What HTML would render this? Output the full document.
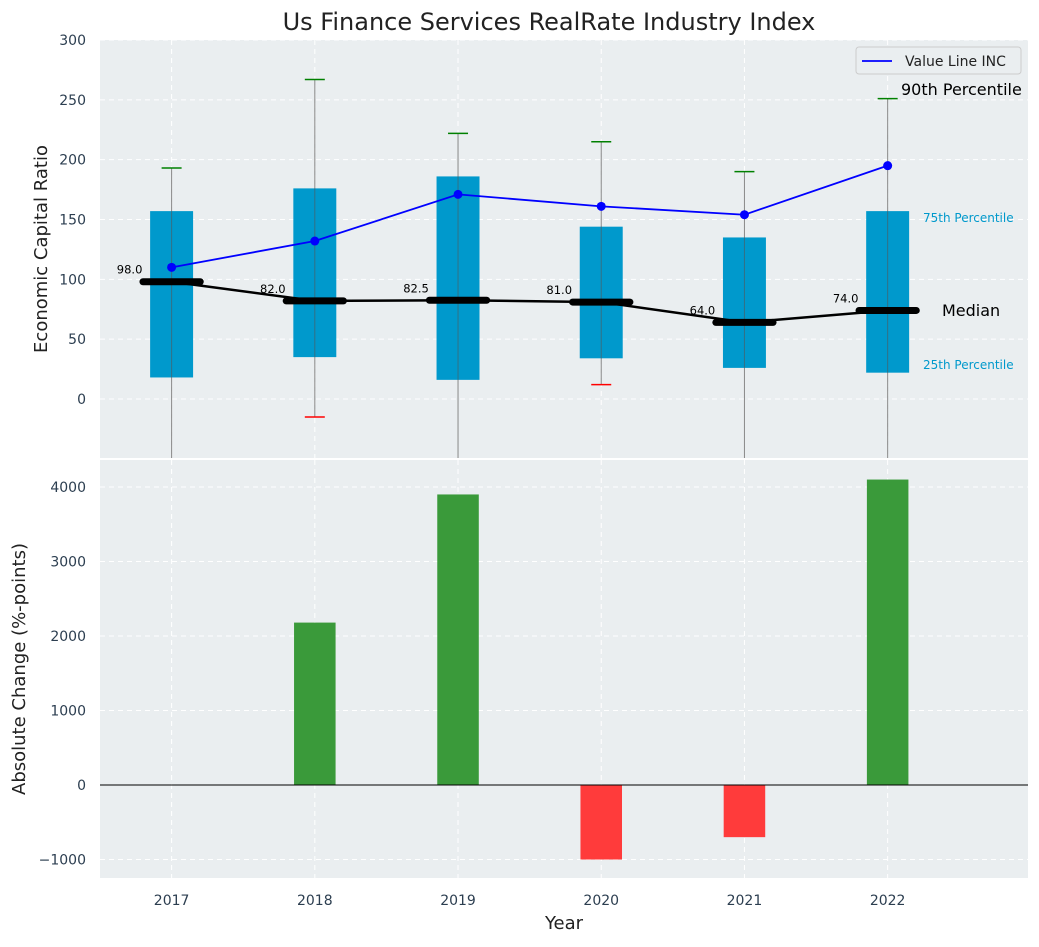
<!DOCTYPE html>
<html><head><meta charset="utf-8"><style>
body{margin:0;background:#fff;font-family:"Liberation Sans","DejaVu Sans",sans-serif}
svg text{font-family:"DejaVu Sans","Liberation Sans",sans-serif}
</style></head><body>
<svg id="chart" width="1039" height="942" xmlns="http://www.w3.org/2000/svg"></svg>
<script>
const years=["2017","2018","2019","2020","2021","2022"];
const q1=[18,35,16,34,26,22];
const q3=[157,176,186,144,135,157];
const medians=[98,82,82.5,81,64,74];
const whiskHigh=[193,267,222,215,190,251];
const whiskLow=[-60,-15,-60,12,-60,-60];
const valueLine=[110,132,171,161,154,195];
const changes=[0,2180,3900,-1000,-700,4100];
const topTicks=[0,50,100,150,200,250,300];
const botTicks=[-1000,0,1000,2000,3000,4000];

const NS="http://www.w3.org/2000/svg";
const svg=document.getElementById('chart');
function mk(t,a,p){const e=document.createElementNS(NS,t);for(const k in a)e.setAttribute(k,a[k]);(p||svg).appendChild(e);return e;}
const L=100,R=1028;
const x=i=>L+(i+0.5)/6.48*(R-L);
const yT=v=>399-(v)*(359/300);
const yB=v=>785-v*(298/4000);
// backgrounds
let e=mk('rect',{x:L,y:40,width:R-L,height:418,fill:'#eaeef0'});

e=mk('rect',{x:L,y:460,width:R-L,height:418,fill:'#eaeef0'});

// grids
topTicks.forEach(v=>{mk('line',{x1:L,x2:R,y1:yT(v),y2:yT(v),stroke:'#fff','stroke-dasharray':'5,4'});
 e=mk('text',{x:86,y:yT(v)+5,'text-anchor':'end','font-size':14,fill:'#2c3e50'});e.textContent=v;
 });
botTicks.forEach(v=>{mk('line',{x1:L,x2:R,y1:yB(v),y2:yB(v),stroke:'#fff','stroke-dasharray':'5,4'});
 e=mk('text',{x:86,y:yB(v)+5,'text-anchor':'end','font-size':14,fill:'#2c3e50'});e.textContent=(v<0?'\u2212'+(-v):v);
 });
years.forEach((y,i)=>{mk('line',{x1:x(i),x2:x(i),y1:40,y2:458,stroke:'#fff','stroke-dasharray':'5,4'});
 mk('line',{x1:x(i),x2:x(i),y1:460,y2:878,stroke:'#fff','stroke-dasharray':'5,4'});
 e=mk('text',{x:x(i),y:905,'text-anchor':'middle','font-size':14,fill:'#2c3e50'});e.textContent=y;
 });
// clip
const defs=mk('defs',{});const cp=mk('clipPath',{id:'ct'},defs);mk('rect',{x:L,y:40,width:R-L,height:418},cp);
const g=mk('g',{'clip-path':'url(#ct)'});
const bw=0.3/6.48*(R-L), mw=0.4/6.48*(R-L);
years.forEach((y,i)=>{
 e=mk('line',{x1:x(i),x2:x(i),y1:yT(whiskLow[i]),y2:yT(whiskHigh[i]),stroke:'#888','stroke-width':1},g);
 
 e=mk('rect',{x:x(i)-bw/2,y:yT(q3[i]),width:bw,height:yT(q1[i])-yT(q3[i]),fill:'#0099cc'},g);
 
 mk('line',{x1:x(i),x2:x(i),y1:yT(q1[i]),y2:yT(q3[i]),stroke:'#555','stroke-width':1,opacity:0.6},g);
 e=mk('line',{x1:x(i)-10,x2:x(i)+10,y1:yT(whiskHigh[i]),y2:yT(whiskHigh[i]),stroke:'green','stroke-width':1.5},g);
 
 e=mk('line',{x1:x(i)-10,x2:x(i)+10,y1:yT(whiskLow[i]),y2:yT(whiskLow[i]),stroke:'red','stroke-width':1.5},g);
 
});
e=mk('polyline',{points:medians.map((v,i)=>x(i)+','+yT(v)).join(' '),fill:'none',stroke:'#000','stroke-width':2.5},g);

medians.forEach((v,i)=>{
 e=mk('line',{x1:x(i)-mw/2,x2:x(i)+mw/2,y1:yT(v),y2:yT(v),stroke:'#000','stroke-width':7,'stroke-linecap':'round'},g);
 
 e=mk('text',{x:x(i)-42,y:yT(v)-8,'text-anchor':'middle','font-size':11.5,fill:'#000'});e.textContent=v.toFixed(1);
 
});
e=mk('polyline',{points:valueLine.map((v,i)=>x(i)+','+yT(v)).join(' '),fill:'none',stroke:'#0000ff','stroke-width':1.8},g);

valueLine.forEach((v,i)=>{e=mk('circle',{cx:x(i),cy:yT(v),r:4.5,fill:'#0000ff'},g);
 });
// annotations
const ann=[['90th Percentile',901,95,16,'#000','annotation-90th'],['75th Percentile',923,222,12,'#0099cc','annotation-75th'],['Median',942,316,16,'#000','annotation-median'],['25th Percentile',923,369,12,'#0099cc','annotation-25th']];
ann.forEach(a=>{e=mk('text',{x:a[1],y:a[2],'font-size':a[3],fill:a[4]});e.textContent=a[0];
 });
// legend
const lg=mk('g',{});
mk('rect',{x:856,y:47,width:165,height:27,fill:'#eaeef0',stroke:'#ccc',rx:3},lg);
mk('line',{x1:862,x2:892,y1:61,y2:61,stroke:'#0000ff','stroke-width':1.8},lg);
e=mk('text',{x:905,y:66,'font-size':14,fill:'#222'},lg);e.textContent='Value Line INC';
// bars
const bwb=0.29/6.48*(R-L);
changes.forEach((v,i)=>{if(v===0)return;
 e=mk('rect',{x:x(i)-bwb/2,y:Math.min(yB(v),yB(0)),width:bwb,height:Math.abs(yB(v)-yB(0)),fill:v>0?'#3a9a3a':'#ff3b3b'});
 });
mk('line',{x1:L,x2:R,y1:yB(0),y2:yB(0),stroke:'#000','stroke-width':1});
// titles
e=mk('text',{x:549,y:30,'text-anchor':'middle','font-size':24,fill:'#222'});e.textContent='Us Finance Services RealRate Industry Index';

e=mk('text',{x:0,y:0,'text-anchor':'middle','font-size':18,fill:'#222',transform:'translate(47,249) rotate(-90)'});e.textContent='Economic Capital Ratio';

e=mk('text',{x:0,y:0,'text-anchor':'middle','font-size':18,fill:'#222',transform:'translate(25,669) rotate(-90)'});e.textContent='Absolute Change (%-points)';

e=mk('text',{x:564,y:929,'text-anchor':'middle','font-size':18,fill:'#222'});e.textContent='Year';

</script>
</body></html>
